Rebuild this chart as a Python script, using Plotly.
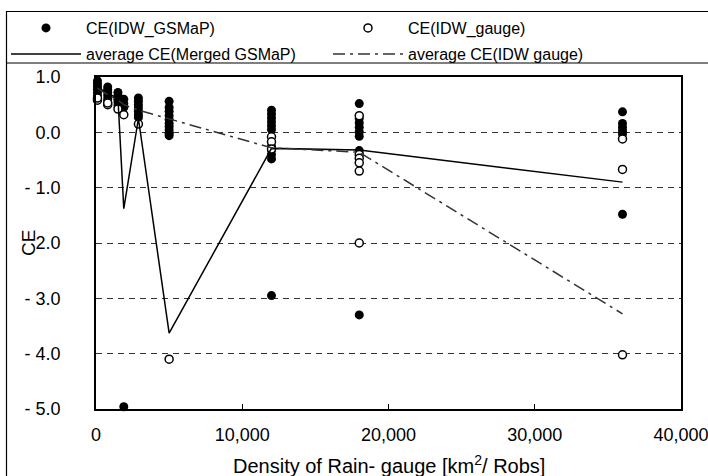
import plotly.graph_objects as go

# ---- data ----
# CE(IDW_GSMaP) (filled dots)
gsmap_density = ([100]*6 + [800]*6 + [1500]*5 + [1900]*4 + [2900]*7 + [5000]*10 +
                 [12000]*11 + [18000]*8 + [36000]*6)
gsmap_ce = ([0.93, 0.88, 0.83, 0.78, 0.72, 0.66] +
            [0.82, 0.77, 0.72, 0.66, 0.60, 0.55] +
            [0.72, 0.66, 0.60, 0.55, 0.48] +
            [0.60, 0.52, 0.45, -4.96] +
            [0.62, 0.56, 0.50, 0.44, 0.38, 0.32, 0.27] +
            [0.56, 0.45, 0.38, 0.30, 0.23, 0.16, 0.10, 0.04, -0.02, -0.06] +
            [0.40, 0.33, 0.26, 0.19, 0.12, 0.05, -0.25, -0.32, -0.40, -0.48, -2.95] +
            [0.52, 0.25, 0.17, 0.09, 0.01, -0.07, -0.33, -3.30] +
            [0.37, 0.16, 0.09, 0.03, -0.03, -1.48])

# CE(IDW_gauge) (open circles)
gauge_density = ([100]*2 + [800]*2 + [1500] + [1900] + [2900] + [5000] +
                 [12000]*3 + [18000]*6 + [36000]*3)
gauge_ce = ([0.58, 0.62] + [0.50, 0.53] + [0.42] + [0.32] + [0.15] + [-4.10] +
            [-0.08, -0.17, -0.30] +
            [0.30, -0.40, -0.47, -0.55, -0.70, -2.00] +
            [-0.12, -0.67, -4.02])

# averages
avg_density = [100, 800, 1500, 1900, 2900, 5000, 12000, 18000, 36000]
avg_merged = [0.82, 0.70, 0.62, -1.38, 0.25, -3.63, -0.29, -0.32, -0.90]
avg_gauge = [0.80, 0.68, 0.58, 0.50, 0.40, 0.24, -0.28, -0.36, -3.28]

x_ticks = [0, 10000, 20000, 30000, 40000]
x_ticktext = ["0", "10,000", "20,000", "30,000", "40,000"]
y_ticks = [1, 0, -1, -2, -3, -4, -5]
y_ticktext = ["1.0", "0.0", "- 1.0", "2.0", "- 3.0", "- 4.0", "- 5.0"]

FONT = "Liberation Sans, Arial, sans-serif"

fig = go.Figure()
fig.add_trace(go.Scatter(
    x=gsmap_density, y=gsmap_ce, mode="markers", name="CE(IDW_GSMaP)",
    marker=dict(symbol="circle", size=9, color="black", line=dict(width=0)),
    cliponaxis=False, legend="legend"))
fig.add_trace(go.Scatter(
    x=gauge_density, y=gauge_ce, mode="markers", name="CE(IDW_gauge)",
    marker=dict(symbol="circle", size=8, color="white", line=dict(width=1.5, color="black")),
    cliponaxis=False, legend="legend2"))
fig.add_trace(go.Scatter(
    x=avg_density, y=avg_merged, mode="lines", name="average CE(Merged GSMaP)",
    line=dict(color="black", width=1.5), legend="legend3"))
fig.add_trace(go.Scatter(
    x=avg_density, y=avg_gauge, mode="lines", name="average CE(IDW gauge)",
    line=dict(color="#333333", width=1.5, dash="12px,5px,3px,5px"), legend="legend4"))

L, R, T, B = 96, 681, 77, 409
W, H = R - L, B - T

def px(xp):
    return (xp - L) / W

def py(yp):
    return (B - yp) / H

legend_common = dict(
    orientation="v", yanchor="top", xanchor="left", itemwidth=70,
    font=dict(family=FONT, size=16, color="black"),
    bgcolor="rgba(0,0,0,0)", borderwidth=0, tracegroupgap=0)

COL1, COL2 = 6, 328
ROW1, ROW2 = 11, 37

fig.update_layout(
    width=708, height=476,
    margin=dict(l=L, r=708 - R, t=T, b=476 - B, autoexpand=False),
    paper_bgcolor="white", plot_bgcolor="white",
    font=dict(family=FONT, color="black", size=18),
    showlegend=True,
    legend=dict(x=px(COL1), y=py(ROW1), **legend_common),
    legend2=dict(x=px(COL2), y=py(ROW1), **legend_common),
    legend3=dict(x=px(COL1), y=py(ROW2), **legend_common),
    legend4=dict(x=px(COL2), y=py(ROW2), **legend_common),
    xaxis=dict(
        range=[0, 40000], tickvals=x_ticks, ticktext=x_ticktext,
        ticks="inside", ticklen=5, tickcolor="black",
        showline=True, linecolor="black", linewidth=1.5, mirror=True,
        showgrid=False, zeroline=False, ticklabelstandoff=9,
        ticklabeloverflow="allow", tickfont=dict(size=18)),
    yaxis=dict(
        range=[-5, 1], tickvals=y_ticks, ticktext=y_ticktext,
        ticks="", showline=True, linecolor="black", linewidth=1.5, mirror=True,
        showgrid=True, gridcolor="#333333", gridwidth=1, griddash="6px,5px",
        zeroline=False, ticklabelstandoff=30, ticklabeloverflow="allow",
        tickfont=dict(size=18)),
    shapes=[
        dict(type="rect", xref="paper", yref="paper",
             x0=px(6.5), x1=px(730), y0=py(500), y1=py(11.5),
             line=dict(color="black", width=1.2)),
        dict(type="line", xref="paper", yref="paper",
             x0=px(6.5), x1=px(730), y0=py(63), y1=py(63),
             line=dict(color="black", width=1.2)),
    ],
    annotations=[
        dict(text="CE", xref="paper", yref="paper", x=px(28), y=0.5,
             xanchor="center", yanchor="middle", textangle=-90, showarrow=False,
             font=dict(family=FONT, size=19)),
        dict(text="Density of Rain- gauge [km<sup>2</sup>/ Robs]", xref="paper", yref="paper",
             x=0.5, y=py(450), xanchor="center", yanchor="top", showarrow=False,
             font=dict(family=FONT, size=20)),
    ],
)

fig.write_html("out.html", config={"displayModeBar": False},
               post_script="document.body.style.margin='0';")
